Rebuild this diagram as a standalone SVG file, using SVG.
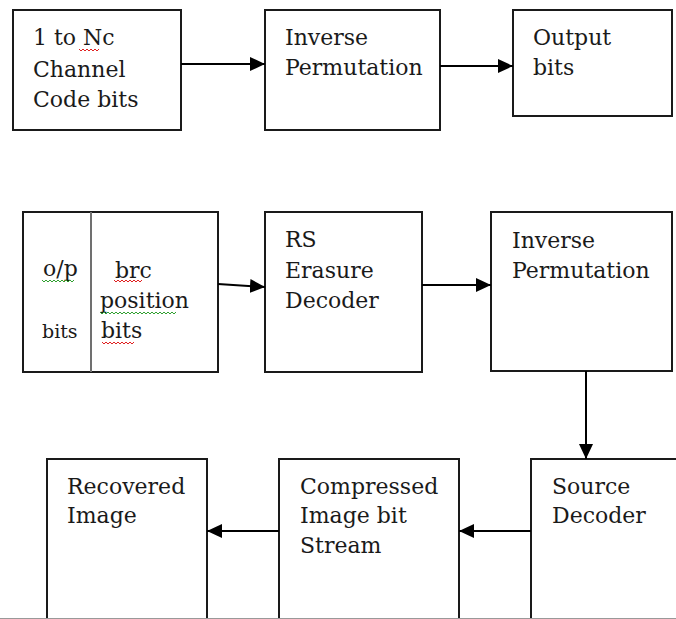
<svg xmlns="http://www.w3.org/2000/svg" width="676" height="619" viewBox="0 0 676 619">
<defs>
<marker id="ah" markerWidth="16" markerHeight="14" refX="15" refY="7" orient="auto" markerUnits="userSpaceOnUse">
<path d="M0,0 L15,7 L0,14 Z" fill="#000"/>
</marker>
<style>
.box{fill:#fff;stroke:#1a1a1a;stroke-width:2}
text{font-family:"DejaVu Serif",serif;font-size:22px;fill:#1a1a1a}
.s{font-size:19px}
.c{stroke:#000;stroke-width:2;fill:none;marker-end:url(#ah)}
.wr{fill:none;stroke:#e02020;stroke-width:1}
.wg{fill:none;stroke:#30a030;stroke-width:1}
</style>
</defs>
<rect width="676" height="619" fill="#fff"/>

<g id="n1">
<rect class="box" x="13" y="10" width="168" height="120"/>
<text x="33" y="45">1 to Nc</text>
<text x="33" y="77">Channel</text>
<text x="33" y="107">Code bits</text>
<path class="wr" d="M79,49 l2,2 l2,-2 l2,2 l2,-2 l2,2 l2,-2 l2,2 l2,-2 l2,2 l2,-2"/>
</g>
<g id="n2">
<rect class="box" x="265" y="10" width="175" height="120"/>
<text x="285" y="45">Inverse</text>
<text x="285" y="75">Permutation</text>
</g>
<g id="n3">
<rect class="box" x="513" y="10" width="159" height="106"/>
<text x="533" y="45">Output</text>
<text x="533" y="75">bits</text>
</g>

<g id="n4">
<rect class="box" x="23" y="212" width="195" height="160"/>
<line x1="91" y1="212" x2="91" y2="372" stroke="#707070" stroke-width="2"/>
<text x="43" y="276">o/p</text>
<text class="s" x="42" y="338">bits</text>
<text x="115" y="278">brc</text>
<text x="100" y="308">position</text>
<text x="101" y="338">bits</text>
<path class="wg" d="M42,280 l2,2 l2,-2 l2,2 l2,-2 l2,2 l2,-2 l2,2 l2,-2 l2,2 l2,-2 l2,2 l2,-2 l2,2 l2,-2 l2,2 l2,-2"/>
<path class="wr" d="M114,280 l2,2 l2,-2 l2,2 l2,-2 l2,2 l2,-2 l2,2 l2,-2 l2,2 l2,-2 l2,2 l2,-2 l2,2 l2,-2"/>
<path class="wg" d="M100,312 l2,2 l2,-2 l2,2 l2,-2 l2,2 l2,-2 l2,2 l2,-2 l2,2 l2,-2 l2,2 l2,-2 l2,2 l2,-2 l2,2 l2,-2 l2,2 l2,-2 l2,2 l2,-2 l2,2 l2,-2 l2,2 l2,-2 l2,2 l2,-2 l2,2 l2,-2 l2,2 l2,-2 l2,2 l2,-2 l2,2 l2,-2 l2,2 l2,-2 l2,2 l2,-2"/>
<path class="wr" d="M102,342 l2,2 l2,-2 l2,2 l2,-2 l2,2 l2,-2 l2,2 l2,-2 l2,2 l2,-2 l2,2 l2,-2 l2,2 l2,-2 l2,2 l2,-2"/>
</g>
<g id="n5">
<rect class="box" x="265" y="212" width="157" height="160"/>
<text x="285" y="247">RS</text>
<text x="285" y="278">Erasure</text>
<text x="285" y="308">Decoder</text>
</g>
<g id="n6">
<rect class="box" x="491" y="212" width="181" height="159"/>
<text x="512" y="248">Inverse</text>
<text x="512" y="278">Permutation</text>
</g>

<g id="n7">
<rect class="box" x="47" y="459" width="160" height="162"/>
<text x="67" y="494">Recovered</text>
<text x="67" y="523">Image</text>
</g>
<g id="n8">
<rect class="box" x="279" y="459" width="180" height="162"/>
<text x="300" y="494">Compressed</text>
<text x="300" y="523">Image bit</text>
<text x="300" y="553">Stream</text>
</g>
<g id="n9">
<rect class="box" x="531" y="459" width="160" height="162"/>
<text x="552" y="494">Source</text>
<text x="552" y="523">Decoder</text>
</g>

<g id="connectors">
<line class="c" x1="181" y1="64" x2="265" y2="64"/>
<line class="c" x1="440" y1="66" x2="513" y2="66"/>
<line class="c" x1="218" y1="284" x2="265" y2="287"/>
<line class="c" x1="422" y1="285" x2="491" y2="285"/>
<line class="c" x1="586" y1="371" x2="586" y2="459"/>
<line class="c" x1="531" y1="531" x2="459" y2="531"/>
<line class="c" x1="279" y1="531" x2="207" y2="531"/>
</g>
<line x1="0" y1="618.5" x2="676" y2="618.5" stroke="#999" stroke-width="1"/>
</svg>
